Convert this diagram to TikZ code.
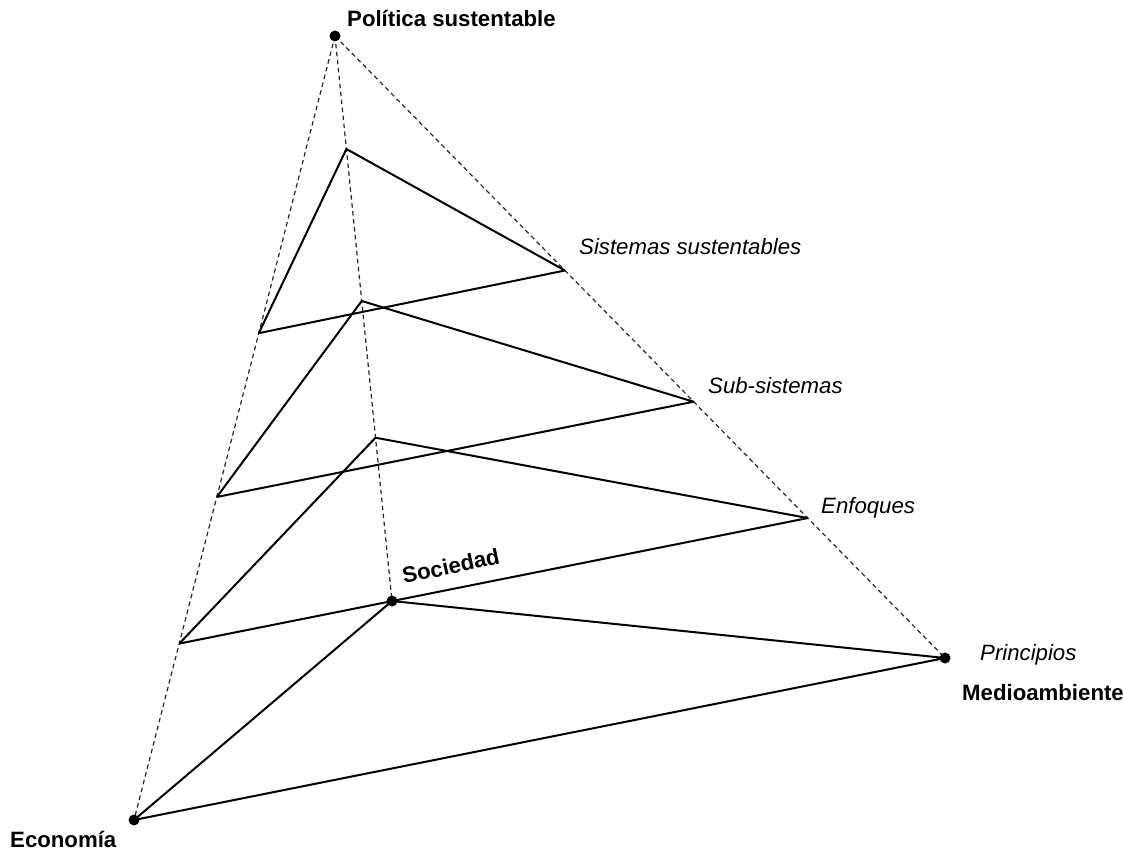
\documentclass[tikz,border=0pt]{standalone}
\usepackage{fontspec}
\setmainfont{Liberation Sans}
\usetikzlibrary{calc}
\begin{document}
\begin{tikzpicture}[x=1pt,y=-1pt,
  guide/.style={dashed,dash pattern=on 4.5pt off 3.5pt,line width=1.2pt,black!85},
  edge/.style={line width=2pt,line join=round},
  vertex/.style={circle,fill=black,inner sep=0pt,minimum size=11pt},
  corner/.style={font=\fontsize{22.2}{26}\selectfont\bfseries,anchor=base west,inner sep=0pt},
  level/.style={font=\fontsize{22.2}{26}\selectfont\itshape,anchor=base west,inner sep=0pt}]
\useasboundingbox (0,0) rectangle (1123,853);

% corners of the pyramid
\coordinate (P) at (335,36);
\coordinate (E) at (134,820);
\coordinate (M) at (945,658);
\coordinate (S) at (392,601);

% intermediate sections along the three edges
\coordinate (T1) at ($(P)!0.200!(S)$);
\coordinate (L1) at ($(P)!0.379!(E)$);
\coordinate (R1) at ($(P)!0.377!(M)$);
\coordinate (T2) at ($(P)!0.469!(S)$);
\coordinate (L2) at ($(P)!0.588!(E)$);
\coordinate (R2) at ($(P)!0.588!(M)$);
\coordinate (T3) at ($(P)!0.711!(S)$);
\coordinate (L3) at ($(P)!0.775!(E)$);
\coordinate (R3) at ($(P)!0.775!(M)$);

% dashed edges from the apex
\draw[guide] (P) -- (E);
\draw[guide] (P) -- (M);
\draw[guide] (P) -- (S);

% sections
\draw[edge] (L1) -- (T1) -- (R1) (L1) -- (R1);
\draw[edge] (L2) -- (T2) -- (R2) (L2) -- (R2);
\draw[edge] (L3) -- (T3) -- (R3) (L3) -- (R3);
\draw[edge] (E) -- (S) -- (M) (E) -- (M);

% vertices
\node[vertex] (vP) at (P) {};
\node[vertex] (vE) at (E) {};
\node[vertex] (vM) at (M) {};
\node[vertex] (vS) at (S) {};

% labels
\node[corner] (lP) at (347,27) {Política sustentable};
\node[corner] (lE) at (10,847) {Economía};
\node[corner] (lM) at (962,700) {Medioambiente};
\node[corner,rotate=12] (lS) at (404,584) {Sociedad};
\node[level] (l1) at (579,254) {Sistemas sustentables};
\node[level] (l2) at (708,393) {Sub-sistemas};
\node[level] (l3) at (821,513) {Enfoques};
\node[level] (l4) at (980,660) {Principios};
\end{tikzpicture}
\end{document}
